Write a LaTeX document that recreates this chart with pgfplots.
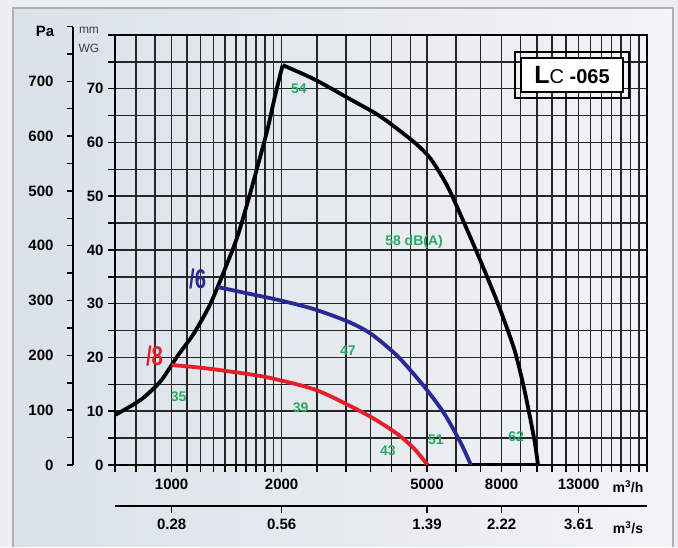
\documentclass[border=0pt]{standalone}
\usepackage{fontspec}
\setmainfont{Liberation Sans}
\usepackage{pgfplots}
\pgfplotsset{compat=1.18}
\definecolor{lbl}{RGB}{40,170,100}
\definecolor{fanblue}{RGB}{40,40,150}
\definecolor{fanred}{RGB}{230,30,40}
\definecolor{bgout}{RGB}{236,238,241}
\definecolor{bgl}{RGB}{218,225,233}
\definecolor{bgr}{RGB}{242,244,246}
\definecolor{framegray}{RGB}{175,175,180}

\begin{document}
\begin{tikzpicture}[x=1pt,y=1pt]
% page and frame
\fill[bgout] (-115,-82) rectangle (563,465);
\shade[left color=bgl, right color=bgr] (-102,-82) rectangle (558,457);
\draw[framegray, line width=1.5pt] (-102,-82) -- (-102,457) -- (558,457) -- (558,-82);

% main chart: m3/h against mm WG
\begin{axis}[
    at={(0,0)}, anchor=south west,
    scale only axis, width=532pt, height=430pt,
    xmode=log, xmin=700, xmax=20000,
    ymin=0, ymax=80,
    xtick={700,800,900,1000,1100,1200,1300,1400,1500,1600,1700,1800,1900,2000,
           2500,3000,3500,4000,4500,5000,6000,7000,8000,9000,10000,11000,12000,
           13000,14000,15000,16000,17000,18000,19000,20000},
    xticklabel=\empty,
    extra x ticks={1000,2000,5000,8000,13000},
    extra x tick labels={1000,2000,5000,8000,13000},
    extra x tick style={grid=none},
    ytick={0,5,...,80},
    yticklabels={0,,10,,20,,30,,40,,50,,60,,70,,},
    grid=major,
    major grid style={black!85, line width=1.5pt},
    axis line style={black, line width=2.2pt},
    tick align=outside, tick pos=left,
    major tick length=7pt,
    tick style={black, line width=1.5pt},
    ticklabel style={font=\bfseries\fontsize{14}{14}\selectfont},
    xticklabel style={yshift=-3pt, font=\bfseries\fontsize{15}{15}\selectfont},
    yticklabel style={xshift=-1pt, font=\bfseries\fontsize{15}{15}\selectfont},
]
% system / envelope curve
\addplot[black, line width=3.8pt, smooth, tension=0.45] coordinates {
    (700,9.3) (822,12.1) (933,15.6) (1036,20.2) (1151,24.5) (1279,30.1)
    (1421,37.6) (1514,42.5) (1612,48.7) (1718,55.5) (1829,62.4) (1927,69.2) (2013,74.4)
};
\addplot[black, line width=3.8pt, smooth, tension=0.45] coordinates {
    (2013,74.4) (2451,71.8) (3035,68.3) (3735,64.8) (4602,60.1) (5124,56.9)
    (5703,51.7) (6320,45.0) (7020,37.8) (7807,30.1) (8658,21.6) (9227,14.1)
    (9826,4.8) (10060,0)
};
\addplot[black, line width=3.8pt] coordinates {(6593,0) (10060,0)};
% /6 speed
\addplot[fanblue, line width=3.8pt, smooth, tension=0.45] coordinates {
    (1337,33.1) (1645,31.8) (1989,30.6) (2451,29.0) (3035,26.7) (3513,24.4)
    (4160,20.2) (4911,14.6) (5568,9.6) (6196,4.0) (6593,0)
};
% /8 speed
\addplot[fanred, line width=3.8pt, smooth, tension=0.45] coordinates {
    (1000,18.6) (1201,18.1) (1479,17.3) (1831,16.3) (2451,14.1) (3035,11.2)
    (3580,8.6) (4160,5.7) (4617,3.0) (5017,0)
};
% sound levels
\begin{scope}[every node/.style={text=lbl, font=\bfseries\fontsize{14}{14}\selectfont}]
\node at (axis cs:2230,70) {54};
\node at (axis cs:4607,41.6) {58 dB(A)};
\node at (axis cs:3036,21.2) {47};
\node at (axis cs:1045,12.8) {35};
\node at (axis cs:2256,10.6) {39};
\node at (axis cs:3906,2.6) {43};
\node at (axis cs:5290,4.7) {51};
\node at (axis cs:8770,5.2) {62};
\end{scope}
\node[fanblue, font=\bfseries\fontsize{27}{27}\selectfont] at (axis cs:1178,34.6) {\scalebox{0.75}[1]{/6}};
\node[fanred, font=\bfseries\fontsize{27}{27}\selectfont] at (axis cs:898,20.3) {\scalebox{0.75}[1]{/8}};
% model box
\node[draw=black, line width=2.2pt, minimum width=114pt, minimum height=46pt] at (axis cs:12470,72.6) {};
\node[draw=black, line width=1.5pt, fill=white, minimum width=102pt, minimum height=34pt,
      font=\bfseries\fontsize{20}{20}\selectfont] at (axis cs:12470,72.6)
      {\fontsize{25}{25}\selectfont L\fontsize{20}{20}\selectfont\mdseries C \bfseries-065};
\end{axis}

% second flow scale: m3/s
\begin{axis}[
    at={(0,-41pt)}, anchor=south west,
    scale only axis, width=532pt, height=10pt,
    xmode=log, xmin=700, xmax=20000, ymin=0, ymax=1,
    axis x line*=bottom, hide y axis,
    x axis line style={-, black, line width=2pt},
    xtick={1000,2000,5000,8000,13000},
    xticklabels={0.28,0.56,1.39,2.22,3.61},
    tick align=outside, major tick length=7pt,
    tick style={black, line width=1.5pt},
    xticklabel style={yshift=-2pt, font=\bfseries\fontsize{15}{15}\selectfont},
]
\end{axis}

% pressure scale: Pa
\begin{axis}[
    at={(-42pt,0)}, anchor=south west,
    scale only axis, width=10pt, height=438.5pt,
    xmin=0, xmax=1, ymin=0, ymax=800,
    axis y line*=left, hide x axis,
    y axis line style={-, black, line width=2pt},
    ytick={0,50,...,800},
    yticklabels={0,,100,,200,,300,,400,,500,,600,,700,,},
    tick align=outside, major tick length=6pt,
    tick style={black, line width=1.5pt},
    yticklabel style={xshift=-10pt, font=\bfseries\fontsize{15}{15}\selectfont},
]
\end{axis}

% unit labels
\node[font=\bfseries\fontsize{14}{14}\selectfont] at (513,-22) {m\textsuperscript{3}/h};
\node[font=\bfseries\fontsize{14}{14}\selectfont] at (513,-63) {m\textsuperscript{3}/s};
\node[font=\bfseries\fontsize{15}{15}\selectfont] at (-70,434) {Pa};
\node[font=\fontsize{12}{12}\selectfont, text=black!75] at (-26,435) {mm};
\node[font=\fontsize{12}{12}\selectfont, text=black!75] at (-26,417) {WG};
\end{tikzpicture}
\end{document}
